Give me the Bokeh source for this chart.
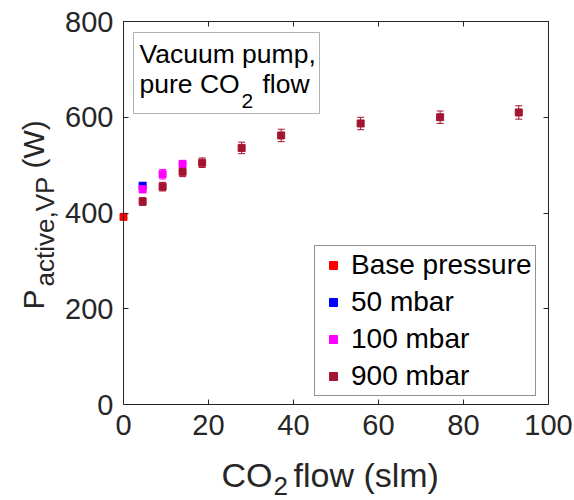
import math
from bokeh.plotting import figure
from bokeh.models import (ColumnDataSource, Whisker, TeeHead, Legend, LegendItem,
                          LinearAxis, Label, BoxAnnotation, Range1d, FixedTicker)
from bokeh.embed import file_html
from bokeh.resources import INLINE

# ---- data ----
base_x = [0.0]
base_y = [392]
base_err = [6]

m50_x = [4.5]
m50_y = [457]
m50_err = [6]

m100_x = [4.5, 9.2, 13.9]
m100_y = [450, 481, 502]
m100_err = [8, 10, 8]

m900_x = [4.5, 9.2, 13.9, 18.5, 27.8, 37.1, 55.8, 74.5, 93.0]
m900_y = [424, 455, 486, 505, 536, 562, 587, 600, 610]
m900_err = [8, 9, 10, 10, 12, 13, 13, 13, 14]

x_ticks = [0, 20, 40, 60, 80, 100]
y_ticks = [0, 200, 400, 600, 800]
x_lim = (0, 100)
y_lim = (0, 800)

series = [
    ("Base pressure", base_x, base_y, base_err, "#FF0000"),
    ("50 mbar", m50_x, m50_y, m50_err, "#0000FF"),
    ("100 mbar", m100_x, m100_y, m100_err, "#FF00FF"),
    ("900 mbar", m900_x, m900_y, m900_err, "#A2142F"),
]

FONT = "Liberation Sans"
AX = "#262626"

# layout of the axes box inside the 574x500 canvas (pixels)
W, H = 574, 500
BOX_L, BOX_R, BOX_T, BOX_B = 123, 26, 21, 96
sx_per = (W - BOX_L - BOX_R) / (x_lim[1] - x_lim[0])
sy_per = (H - BOX_T - BOX_B) / (y_lim[1] - y_lim[0])

p = figure(width=W, height=H, output_backend="svg", toolbar_location=None,
           x_range=Range1d(x_lim[0] - BOX_L / sx_per, x_lim[1] + BOX_R / sx_per),
           y_range=Range1d(y_lim[0] - BOX_B / sy_per, y_lim[1] + BOX_T / sy_per),
           min_border=0, x_axis_location=None, y_axis_location=None)
p.background_fill_color = "white"
p.border_fill_color = "white"
p.grid.visible = False
p.outline_line_color = None


def make_axis(ticks, loc, bounds, labels=True):
    ax = LinearAxis(ticker=FixedTicker(ticks=ticks), fixed_location=loc, bounds=bounds,
                    major_tick_in=5, major_tick_out=0, minor_tick_in=0, minor_tick_out=0,
                    axis_line_color=AX, axis_line_width=1, major_tick_line_color=AX,
                    major_label_text_font=FONT, major_label_text_font_size="29px",
                    major_label_text_color=AX if labels else None)
    return ax


xb = make_axis(x_ticks, y_lim[0], x_lim)
xb.major_label_standoff = 10
yl = make_axis(y_ticks, x_lim[0], y_lim)
yl.major_label_standoff = 10
xt = make_axis(x_ticks, y_lim[1], x_lim, labels=False)
yr = make_axis(y_ticks, x_lim[1], y_lim, labels=False)
p.add_layout(xb, "below")
p.add_layout(yl, "left")
p.add_layout(xt, "above")
p.add_layout(yr, "right")

items = []
for name, xs, ys, es, c in series:
    src = ColumnDataSource(dict(x=xs, y=ys,
                                upper=[y + e for y, e in zip(ys, es)],
                                lower=[y - e for y, e in zip(ys, es)]))
    w = Whisker(source=src, base="x", upper="upper", lower="lower", dimension="height",
                line_color=c, line_width=1,
                upper_head=TeeHead(size=7, line_color=c, line_width=1),
                lower_head=TeeHead(size=7, line_color=c, line_width=1))
    p.add_layout(w)
    r = p.scatter("x", "y", source=src, marker="square", size=7,
                  fill_color=c, line_color=c)
    items.append(LegendItem(label=name, renderers=[r]))

legend = Legend(items=items, location=(314, 104), label_text_font=FONT,
                label_text_font_size="28px", label_text_color="black",
                glyph_width=30, glyph_height=20, label_standoff=3, padding=3,
                spacing=5, margin=0, border_line_color=AX, border_line_width=1,
                background_fill_color="white", background_fill_alpha=1)
p.add_layout(legend, "center")


def lab(text, x, y, size, angle=0.0, color=AX):
    p.add_layout(Label(x=x, y=y, x_units="screen", y_units="screen", text=text,
                       text_font=FONT, text_font_size=size, text_color=color,
                       angle=angle, text_align="left", text_baseline="alphabetic"))


# ---- axis titles (with subscripts) ----
lab("CO", 221, 26, "34px")
lab("2", 273, 15, "26px")
lab("flow (slm)", 293, 26, "34px")

lab("P", 33, 191, "30px", math.pi / 2)
lab("active,VP", 44, 214, "26px", math.pi / 2)
lab("(W)", 33, 332, "30px", math.pi / 2)

# ---- text box ----
p.add_layout(BoxAnnotation(left=133, right=319, top=468, bottom=387,
                           left_units="screen", right_units="screen",
                           top_units="screen", bottom_units="screen",
                           fill_color="white", fill_alpha=1,
                           line_color="black", line_width=1))
lab("Vacuum pump,", 139, 447, "26.5px", color="black")
lab("pure CO", 139, 417, "26.5px", color="black")
lab("2", 241, 400, "21px", color="black")
lab("flow", 262, 417, "26.5px", color="black")

open("out.html", "w").write(file_html(p, INLINE))
